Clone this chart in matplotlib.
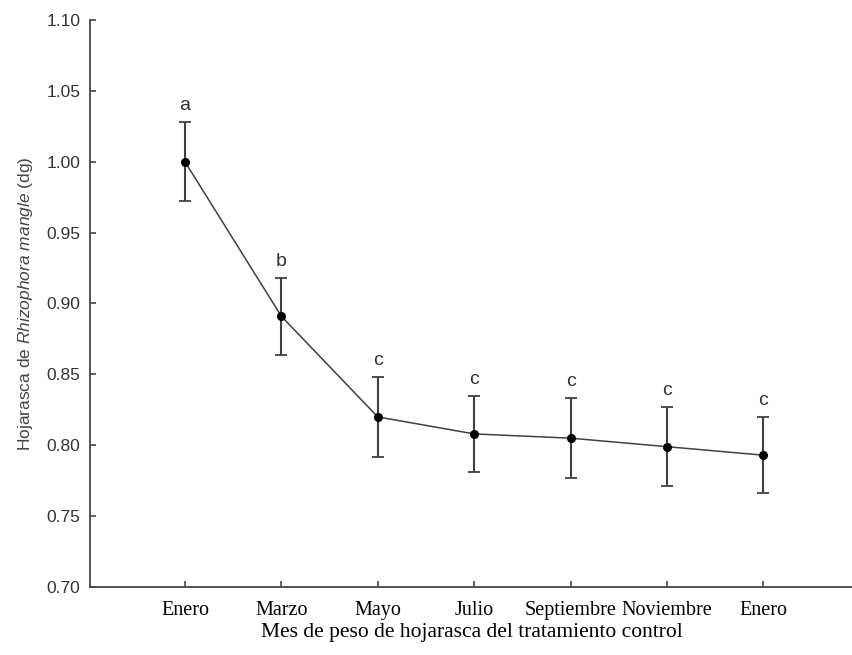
import matplotlib
matplotlib.use('Agg')
import matplotlib.pyplot as plt
import numpy as np

# datos
meses = ["Enero", "Marzo", "Mayo", "Julio", "Septiembre", "Noviembre", "Enero"]
peso = [1.000, 0.891, 0.820, 0.808, 0.805, 0.799, 0.793]
error = [0.028, 0.027, 0.028, 0.027, 0.028, 0.028, 0.027]
letras = ["a", "b", "c", "c", "c", "c", "c"]

plt.rcParams['mathtext.fontset'] = 'custom'
plt.rcParams['mathtext.rm'] = 'Liberation Sans'
plt.rcParams['mathtext.it'] = 'Liberation Sans:italic'

fig = plt.figure(figsize=(8.53, 6.55), dpi=100)
ax = fig.add_axes([0.1055, 0.1038, 0.8945, 0.8657])

x = np.arange(len(meses))
ax.errorbar(x, peso, yerr=error, color='#404040', ecolor='#404040', lw=1.1,
            elinewidth=1.5, capsize=4.5, capthick=1.3, marker='o', markersize=5.5,
            markerfacecolor='black', markeredgecolor='black')

# letras de significancia
for xi, yi, ei, l in zip(x, peso, error, letras):
    ax.text(xi, yi + ei + 0.0085, l, ha='center', va='baseline',
            fontsize=14, family='Liberation Sans', color='#333333')

ax.set_xlim(-0.985, 6.93)
ax.set_ylim(0.70, 1.10)
ax.set_yticks(np.arange(0.70, 1.101, 0.05))
ax.set_yticklabels(['%.2f' % v for v in np.arange(0.70, 1.101, 0.05)],
                   family='Liberation Sans', fontsize=12.5, color='#333333')
ax.set_xticks(x)
ax.set_xticklabels(meses, family='Liberation Serif', fontsize=14.5)

ax.spines['top'].set_visible(False)
ax.spines['right'].set_visible(False)
ax.spines['left'].set_color('#444444')
ax.spines['bottom'].set_color('#444444')
ax.spines['left'].set_linewidth(1.3)
ax.spines['bottom'].set_linewidth(1.3)
ax.tick_params(axis='y', direction='in', length=4, width=1.2, colors='#444444', pad=7)
ax.tick_params(axis='x', direction='in', length=4, width=1.2, colors='#444444', pad=10)
for t in ax.get_xticklabels():
    t.set_color('black')
for t in ax.get_yticklabels():
    t.set_color('#333333')

ax.set_xlabel("Mes de peso de hojarasca del tratamiento control",
              family='Liberation Serif', fontsize=15.5, labelpad=2)
ax.set_ylabel(r"Hojarasca de $\it{Rhizophora\ mangle}$ (dg)",
              family='Liberation Sans', fontsize=12.5, color='#444444', labelpad=8)

plt.savefig('out.png', dpi=100)
